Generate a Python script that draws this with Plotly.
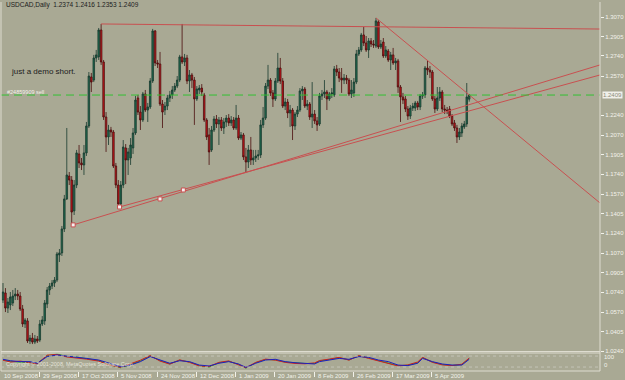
import plotly.graph_objects as go

# ---------------- data ----------------
O = [1.0673,1.0733,1.0605,1.0631,1.0648,1.0707,1.0724,1.0707,1.0597,1.0470,
     1.0496,1.0326,1.0351,1.0317,1.0343,1.0334,1.0470,1.0496,1.0639,1.0758,
     1.0791,1.0817,1.0842,1.1055,1.1072,1.1275,1.1529,1.1723,1.1689,1.1427,
     1.1647,1.1910,1.1834,1.1817,1.1919,1.2147,1.2562,1.2536,1.2723,1.2732,
     1.2960,1.2689,1.2223,1.2054,1.2113,1.2096,1.1808,1.1647,1.1486,1.1647,
     1.1961,1.1859,1.1876,1.1961,1.2088,1.2384,1.2265,1.2198,1.2418,1.2282,
     1.2308,1.2528,1.2952,1.2681,1.2672,1.2333,1.2282,1.2316,1.2384,1.2410,
     1.2452,1.2485,1.2536,1.2732,1.2689,1.2723,1.2528,1.2579,1.2536,1.2376,
     1.2452,1.2468,1.2410,1.2198,1.2071,1.1944,1.2113,1.2206,1.2164,1.2198,
     1.2130,1.2181,1.2214,1.2173,1.2198,1.2130,1.2214,1.2045,1.2071,1.1885,
     1.1842,1.1944,1.1859,1.1876,1.1893,1.1902,1.2156,1.2214,1.2485,1.2536,
     1.2427,1.2376,1.2528,1.2638,1.2528,1.2316,1.2350,1.2257,1.2282,1.2147,
     1.2248,1.2282,1.2444,1.2460,1.2316,1.2333,1.2223,1.2248,1.2190,1.2164,
     1.2401,1.2418,1.2435,1.2376,1.2418,1.2410,1.2630,1.2604,1.2553,1.2536,
     1.2553,1.2536,1.2418,1.2427,1.2519,1.2757,1.2791,1.2918,1.2850,1.2791,
     1.2867,1.2841,1.2824,1.3028,1.2816,1.2858,1.2740,1.2782,1.2706,1.2749,
     1.2681,1.2698,1.2477,1.2393,1.2376,1.2291,1.2231,1.2299,1.2299,1.2342,
     1.2308,1.2401,1.2410,1.2638,1.2621,1.2604,1.2376,1.2291,1.2384,1.2435,
     1.2291,1.2282,1.2291,1.2231,1.2173,1.2130,1.2054,1.2088,1.2139,1.2164,
     1.2374]
H = [1.0817,1.0774,1.0690,1.0741,1.0758,1.0774,1.0758,1.0741,1.0631,1.0520,
     1.0520,1.0377,1.0394,1.0377,1.0368,1.0504,1.0537,1.0673,1.0783,1.0817,
     1.0842,1.0868,1.1080,1.1105,1.1300,1.1563,1.2130,1.1757,1.1723,1.1689,
     1.1944,1.1986,1.1876,1.1986,1.2181,1.2604,1.2596,1.2749,1.2791,1.2977,
     1.3011,1.2706,1.2265,1.2156,1.2139,1.2113,1.1834,1.1689,1.1681,1.2028,
     1.1994,1.1961,1.2045,1.2130,1.2401,1.2410,1.2316,1.2435,1.2452,1.2342,
     1.2553,1.2969,1.2960,1.2706,1.2774,1.2367,1.2350,1.2410,1.2444,1.2485,
     1.2511,1.2570,1.2749,1.3011,1.2757,1.2749,1.2621,1.2596,1.2562,1.2485,
     1.2494,1.2502,1.2427,1.2214,1.2130,1.2147,1.2231,1.2240,1.2223,1.2223,
     1.2214,1.2240,1.2248,1.2231,1.2223,1.2325,1.2240,1.2096,1.2088,1.1961,
     1.1986,1.2054,1.1944,1.1944,1.1944,1.2198,1.2308,1.2511,1.2664,1.2553,
     1.2452,1.2553,1.2766,1.2723,1.2553,1.2384,1.2376,1.2325,1.2299,1.2265,
     1.2316,1.2468,1.2485,1.2477,1.2367,1.2350,1.2519,1.2282,1.2223,1.2427,
     1.2452,1.2536,1.2452,1.2435,1.2468,1.2655,1.2664,1.2638,1.2638,1.2587,
     1.2579,1.2553,1.2536,1.2553,1.2791,1.2816,1.2935,1.2986,1.2909,1.2892,
     1.2892,1.2875,1.3062,1.3045,1.2875,1.2892,1.2824,1.2799,1.2774,1.2808,
     1.2723,1.2715,1.2494,1.2427,1.2401,1.2316,1.2325,1.2342,1.2359,1.2359,
     1.2418,1.2435,1.2655,1.2706,1.2655,1.2621,1.2401,1.2477,1.2477,1.2452,
     1.2325,1.2308,1.2316,1.2248,1.2198,1.2156,1.2130,1.2173,1.2190,1.2511,
     1.2416]
L = [1.0648,1.0571,1.0563,1.0588,1.0622,1.0673,1.0673,1.0580,1.0445,1.0436,
     1.0309,1.0300,1.0300,1.0300,1.0309,1.0317,1.0453,1.0462,1.0605,1.0716,
     1.0766,1.0783,1.0825,1.0995,1.1046,1.1249,1.1520,1.1647,1.1309,1.1393,
     1.1621,1.1791,1.1774,1.1732,1.1893,1.2130,1.2435,1.2519,1.2689,1.2706,
     1.2664,1.2198,1.1927,1.1986,1.2054,1.1791,1.1621,1.1461,1.1461,1.1621,
     1.1655,1.1732,1.1817,1.1910,1.2071,1.2240,1.2113,1.2181,1.2265,1.2181,
     1.2291,1.2511,1.2655,1.2638,1.2316,1.2130,1.2240,1.2282,1.2350,1.2376,
     1.2435,1.2468,1.2519,1.2672,1.2655,1.2502,1.2435,1.2468,1.2156,1.2359,
     1.2418,1.2401,1.2181,1.2028,1.1817,1.1927,1.2096,1.2130,1.1986,1.2105,
     1.2079,1.2139,1.2147,1.2147,1.2113,1.2113,1.2028,1.2028,1.1859,1.1757,
     1.1791,1.1817,1.1817,1.1842,1.1859,1.1876,1.2130,1.2198,1.2460,1.2401,
     1.2308,1.2359,1.2511,1.2502,1.2299,1.2282,1.2214,1.2139,1.2028,1.2113,
     1.2223,1.2265,1.2367,1.2299,1.2282,1.2198,1.2130,1.2164,1.2105,1.2147,
     1.2367,1.2384,1.2282,1.2359,1.2384,1.2393,1.2570,1.2519,1.2427,1.2502,
     1.2502,1.2401,1.2384,1.2393,1.2502,1.2740,1.2774,1.2824,1.2774,1.2723,
     1.2816,1.2808,1.2808,1.2799,1.2799,1.2723,1.2723,1.2689,1.2621,1.2664,
     1.2621,1.2427,1.2181,1.2333,1.2265,1.2198,1.2206,1.2274,1.2274,1.2282,
     1.2282,1.2376,1.2384,1.2579,1.2553,1.2359,1.2257,1.2274,1.2359,1.2265,
     1.2248,1.2248,1.2214,1.2147,1.2105,1.2003,1.2028,1.2054,1.2122,1.2139,
     1.2353]
C = [1.0741,1.0605,1.0656,1.0699,1.0707,1.0724,1.0707,1.0597,1.0470,1.0504,
     1.0326,1.0351,1.0317,1.0343,1.0326,1.0470,1.0504,1.0648,1.0758,1.0791,
     1.0817,1.0842,1.1063,1.1072,1.1275,1.1529,1.1732,1.1689,1.1418,1.1647,
     1.1919,1.1834,1.1817,1.1919,1.2147,1.2570,1.2519,1.2723,1.2749,1.2960,
     1.2689,1.2223,1.2054,1.2113,1.2096,1.1808,1.1647,1.1486,1.1647,1.1969,
     1.1859,1.1927,1.1986,1.2088,1.2367,1.2265,1.2198,1.2418,1.2282,1.2308,
     1.2528,1.2952,1.2681,1.2672,1.2333,1.2265,1.2316,1.2384,1.2410,1.2452,
     1.2485,1.2536,1.2732,1.2689,1.2723,1.2528,1.2579,1.2536,1.2376,1.2460,
     1.2468,1.2435,1.2198,1.2054,1.1927,1.2113,1.2206,1.2164,1.2198,1.2130,
     1.2181,1.2214,1.2173,1.2198,1.2130,1.2214,1.2045,1.2071,1.1885,1.1842,
     1.1944,1.1859,1.1876,1.1893,1.1902,1.2156,1.2214,1.2485,1.2536,1.2427,
     1.2376,1.2528,1.2638,1.2528,1.2316,1.2350,1.2257,1.2282,1.2147,1.2248,
     1.2282,1.2444,1.2460,1.2316,1.2333,1.2223,1.2248,1.2190,1.2156,1.2401,
     1.2418,1.2435,1.2376,1.2418,1.2427,1.2630,1.2604,1.2553,1.2536,1.2553,
     1.2536,1.2418,1.2452,1.2519,1.2757,1.2791,1.2918,1.2850,1.2791,1.2867,
     1.2841,1.2833,1.3037,1.2816,1.2841,1.2740,1.2791,1.2706,1.2749,1.2681,
     1.2698,1.2477,1.2393,1.2367,1.2291,1.2231,1.2299,1.2316,1.2342,1.2308,
     1.2401,1.2410,1.2638,1.2621,1.2604,1.2376,1.2291,1.2384,1.2435,1.2291,
     1.2282,1.2274,1.2231,1.2164,1.2130,1.2054,1.2096,1.2147,1.2164,1.2393,
     1.2409]

date_labels = ["10 Sep 2008", "29 Sep 2008", "17 Oct 2008", "5 Nov 2008",
               "24 Nov 2008", "12 Dec 2008", "1 Jan 2009", "20 Jan 2009",
               "8 Feb 2009", "26 Feb 2009", "17 Mar 2009", "5 Apr 2009"]
date_bars = [0, 16, 32, 48, 64, 80, 96, 112, 128, 144, 160, 176]

price_ticks = [1.3070, 1.2905, 1.2740, 1.2570, 1.2240, 1.2070, 1.1905, 1.1740,
               1.1570, 1.1405, 1.1240, 1.1070, 1.0905, 1.0740, 1.0570, 1.0405, 1.0240]
last_price = 1.2409

# trend lines drawn on the chart (anchor bar, price) -> (right edge bar, price)
tl_support1_x = [28.6, 243.3]; tl_support1_y = [1.1309, 1.2664]
tl_support2_x = [47.5, 243.3]; tl_support2_y = [1.1461, 1.2579]
tl_resist_x = [152, 243.3];    tl_resist_y = [1.3062, 1.1495]
tl_top_x = [40, 243.3];        tl_top_y = [1.3011, 1.2968]
anchor_x = [28.6, 47.5, 64, 73.5]
anchor_y = [1.1309, 1.1461, 1.1529, 1.1605]

# oscillator sub-window
osc_bars = [0,3,7,11,14,18,22,26,30,34,39,43,48,52,56,60,64,68,72,76,80,84,88,92,96,
            99,103,107,111,115,119,123,127,129,133,137,141,145,149,153,157,161,165,169,171,
            175,179,183,187,190]
osc_blue = [65,57,52,52,43,80,89,83,80,70,61,43,24,33,52,80,61,43,57,52,33,28,43,52,39,
            20,43,61,65,52,46,43,39,52,61,70,65,80,76,61,52,33,30,43,70,52,39,33,33,65]
osc_red = [60,50,55,45,40,88,92,78,74,66,55,35,20,38,60,86,55,38,62,48,28,25,48,56,35,
           18,48,66,60,48,42,40,45,58,66,76,60,86,70,56,46,28,34,50,76,48,34,30,38,72]
osc_green = [62,54,50,48,42,84,95,80,77,68,58,38,18,36,56,84,58,40,60,50,30,22,46,54,37,
             16,46,64,62,50,44,42,42,56,64,74,62,84,72,58,48,30,32,46,74,50,36,31,36,70]

# ---------------- figure ----------------
BG = "#a9a994"
LIGHT = "#f2f2ea"
FONT = "Liberation Sans"
bars = list(range(len(C)))

fig = go.Figure()

fig.add_trace(go.Candlestick(
    x=bars, open=O, high=H, low=L, close=C,
    increasing=dict(line=dict(color="#183a2e", width=0.8), fillcolor="#1f6a4e"),
    decreasing=dict(line=dict(color="#4a0c0c", width=0.8), fillcolor="#cc161c"),
    whiskerwidth=0, showlegend=False, xaxis="x", yaxis="y"))

line_red = "#c85050"
for xs, ys in [(tl_support1_x, tl_support1_y), (tl_support2_x, tl_support2_y),
               (tl_resist_x, tl_resist_y), (tl_top_x, tl_top_y)]:
    fig.add_trace(go.Scatter(x=xs, y=ys, mode="lines", line=dict(color=line_red, width=1),
                             showlegend=False, hoverinfo="skip", xaxis="x", yaxis="y"))
fig.add_trace(go.Scatter(x=anchor_x, y=anchor_y, mode="markers",
                         marker=dict(symbol="square", size=4, color="#f4f0f0",
                                     line=dict(color=line_red, width=1)),
                         showlegend=False, hoverinfo="skip", xaxis="x", yaxis="y"))

# current order line
fig.add_trace(go.Scatter(x=[-0.81, 243.3], y=[last_price, last_price], mode="lines",
                         line=dict(color="#33c033", width=1, dash="8px,5px"),
                         showlegend=False, hoverinfo="skip", xaxis="x", yaxis="y"))

for ys, col in [(osc_green, "#22b022"), (osc_red, "#d02020"), (osc_blue, "#2020c0")]:
    fig.add_trace(go.Scatter(x=osc_bars, y=ys, mode="lines", line=dict(color=col, width=1),
                             showlegend=False, hoverinfo="skip", xaxis="x2", yaxis="y2"))

H_PLOT = 369.0
def py(pix):  # paper y from pixel row (plot area rows 2..371)
    return (371 - pix) / H_PLOT

main_dom = [py(351.5), 1]
osc_dom = [0, py(353)]

fig.update_layout(
    width=625, height=380,
    margin=dict(l=1, r=23, t=2, b=9),
    paper_bgcolor=BG, plot_bgcolor=BG,
    boxgap=0.1,
    font=dict(family=FONT, size=6, color=LIGHT),
    xaxis=dict(range=[-0.81, 243.3], domain=[0, 1], anchor="y", showticklabels=False,
               showgrid=False, zeroline=False, showline=False, ticks="",
               rangeslider=dict(visible=False), fixedrange=True),
    yaxis=dict(range=[1.0237, 1.3197], domain=main_dom, side="right", anchor="x",
               tickvals=price_ticks, tickformat=".4f", ticks="outside", ticklen=3,
               tickcolor=LIGHT, tickfont=dict(size=6, color=LIGHT, family=FONT),
               showgrid=False, zeroline=False, showline=False),
    xaxis2=dict(range=[-0.81, 243.3], domain=[0, 1], anchor="y2", matches="x",
                tickvals=[b - 1.2 for b in date_bars], ticks="outside", ticklen=5,
                tickcolor=LIGHT, showticklabels=False, showgrid=False, zeroline=False,
                showline=False),
    yaxis2=dict(range=[0, 100], domain=osc_dom, anchor="x2", side="right",
                showticklabels=False, ticks="", showgrid=False, zeroline=False,
                showline=False),
)

shapes = []
bc = "#dedcd0"
shapes.append(dict(type="line", xref="paper", yref="paper", x0=1, x1=1, y0=0, y1=1,
                   line=dict(color=bc, width=1)))
shapes.append(dict(type="line", xref="paper", yref="paper", x0=0, x1=0, y0=0, y1=1,
                   line=dict(color=bc, width=1)))
for yy in [py(351.5), py(353), 0]:
    shapes.append(dict(type="line", xref="paper", yref="paper", x0=0, x1=1, y0=yy, y1=yy,
                       line=dict(color=bc, width=1)))
for lv in [83, 22]:
    shapes.append(dict(type="line", xref="paper", yref="y2", x0=0, x1=1, y0=lv, y1=lv,
                       line=dict(color="#c4c4b6", width=1, dash="dot")))
fig.update_layout(shapes=shapes)

ann = []
ann.append(dict(text="USDCAD,Daily&nbsp;&nbsp;1.2374 1.2416 1.2353 1.2409", xref="paper", yref="paper",
                x=3 / 601, y=py(5), xanchor="left", yanchor="middle", showarrow=False,
                font=dict(size=6.5, color="#1c1c1c", family=FONT)))
ann.append(dict(text="just a demo short.", xref="paper", yref="paper",
                x=8 / 601, y=py(71), xanchor="left", yanchor="middle", showarrow=False,
                font=dict(size=8, color="#1c1c1c", family=FONT)))
ann.append(dict(text="#24859909 sell", xref="paper", yref="paper",
                x=4 / 601, y=py(91.5), xanchor="left", yanchor="middle", showarrow=False,
                font=dict(size=5.5, color=LIGHT, family=FONT)))
ann.append(dict(text="%.4f" % last_price, xref="paper", yref="y", x=1, y=last_price,
                xanchor="left", yanchor="middle", xshift=2, showarrow=False,
                bgcolor="#f0f0ea", borderpad=0,
                font=dict(size=6, color="#8a8a78", family=FONT)))
ann.append(dict(text="100", xref="paper", yref="y2", x=1, y=76, xanchor="left",
                yanchor="middle", xshift=2, showarrow=False,
                font=dict(size=6, color=LIGHT, family=FONT)))
ann.append(dict(text="0", xref="paper", yref="y2", x=1, y=33, xanchor="left",
                yanchor="middle", xshift=2, showarrow=False,
                font=dict(size=6, color=LIGHT, family=FONT)))
ann.append(dict(text="Copyright © 2001-2008, MetaQuotes Software Corp.", xref="paper", yref="y2",
                x=3 / 601, y=39, xanchor="left", yanchor="middle", showarrow=False,
                font=dict(size=5.5, color="#e4e4da", family=FONT)))
for b, t in zip(date_bars, date_labels):
    ann.append(dict(text=t, xref="x2", yref="paper", x=b - 0.6, y=py(375.5),
                    xanchor="left", yanchor="middle", showarrow=False,
                    font=dict(size=6, color=LIGHT, family=FONT)))
fig.update_layout(annotations=ann)

fig.write_html("out.html")
